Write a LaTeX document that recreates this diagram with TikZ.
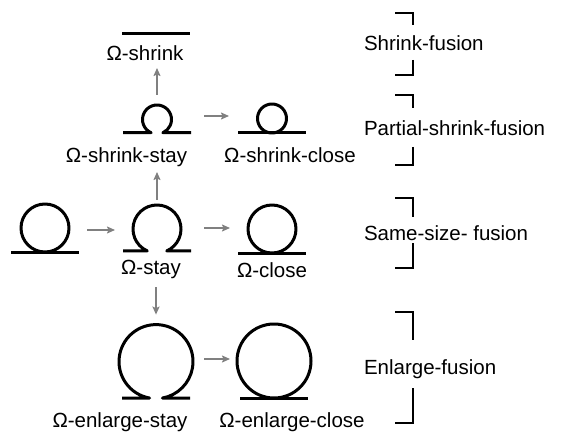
\documentclass[tikz,border=0pt]{standalone}
\usepackage{fontspec}
\setmainfont{Liberation Sans}
\usetikzlibrary{arrows.meta,calc}
\newcommand\OmStay[5]{% name, cx, CY, r, alpha
  \node[symbox, minimum height={2*#4}] (#1) at (#2,#3) {};
  \pgfmathsetmacro\og{#4*cos(#5)}%
  \pgfmathsetmacro\ob{#3-#4*sin(#5)}%
  \draw[omline] (#2-34,\ob) -- (#2-\og,\ob) arc[start angle={180+#5}, end angle={-#5}, radius=#4pt] -- (#2+34,\ob);}
\newcommand\OmClose[4]{% name, cx, CY, r
  \node[symbox, minimum height={2*#4}] (#1) at (#2,#3) {};
  \draw[omline] (#2-34,#3-#4) -- (#2+34,#3-#4);
  \draw[omline] (#2,#3) circle[radius=#4pt];}
\begin{document}
\begin{tikzpicture}[x=1pt,y=1pt,
  symbox/.style={draw=none, inner sep=0pt, outer sep=0pt, minimum width=68pt},
  omline/.style={line width=3pt, black, line join=round},
  lbl/.style={inner sep=0pt, outer sep=0pt, text depth=4pt, anchor=base, font=\fontsize{20.5}{24}\selectfont},
  grp/.style={inner sep=0pt, outer sep=0pt, anchor=base west, font=\fontsize{20.5}{24}\selectfont},
  arr/.style={draw=gray, line width=1.5pt, -{Stealth[length=8pt,width=7pt,inset=1.5pt]}},
  brk/.style={line width=2pt, black}]
\useasboundingbox (0,0) rectangle (569,434);
% Omega-shrink
\node[symbox, minimum height=3pt] (shrink) at (156,400) {};
\draw[omline] (122,400) -- (190,400);
\node[lbl] (lshrink) at (145,373.7) {Ω-shrink};
% row 2
\OmStay{sstay}{157}{314.5}{14.5}{66}
\OmClose{sclose}{272}{315.5}{14.5}
\node[lbl] (lsstay) at (126.5,271.7) {Ω-shrink-stay};
\node[lbl] (lsclose) at (290,271.7) {Ω-shrink-close};
% row 3
\OmClose{orig}{45}{206}{24}
\OmStay{stay}{157}{205}{24}{66}
\OmClose{close}{272}{205}{24}
\node[lbl] (lstay) at (151,159.7) {Ω-stay};
\node[lbl] (lclose) at (272,156.7) {Ω-close};
% row 4
\OmStay{estay}{156}{72.4}{37}{80}
\OmClose{eclose}{274}{73}{37}
\node[lbl] (lestay) at (120,7) {Ω-enlarge-stay};
\node[lbl] (leclose) at (292,7) {Ω-enlarge-close};
% arrows
\draw[arr, shorten <=10pt, shorten >=3.7pt] (sstay.north) -- (sstay.north |- lshrink.south);
\draw[arr, shorten <=13pt, shorten >=9pt] ([yshift=3.5pt]sstay.east) -- ([yshift=3.5pt]sstay.east -| sclose.west);
\draw[arr, shorten <=5pt, shorten >=5.7pt] (stay.north) -- (stay.north |- lsstay.south);
\draw[arr, shorten <=8pt, shorten >=8pt] ([yshift=-2pt]orig.east) -- ([yshift=-2pt]orig.east -| stay.west);
\draw[arr, shorten <=13pt, shorten >=8pt] ([yshift=1pt]stay.east) -- ([yshift=1pt]stay.east -| close.west);
\draw[arr, shorten <=8.7pt, shorten >=10pt] (estay.north |- lstay.south) -- (estay.north);
\draw[arr, shorten <=14pt, shorten >=10pt] ([yshift=2.6pt]estay.east) -- ([yshift=2.6pt]estay.east -| eclose.west);
% group labels
\node[grp] (gshrink) at (364,383) {Shrink-fusion};
\node[grp] (gpartial) at (364,298.5) {Partial-shrink-fusion};
\node[grp] (gsame) at (364,193.5) {Same-size- fusion};
\node[grp] (genlarge) at (364,59.5) {Enlarge-fusion};
% brackets
\draw[brk] (395,421) -- (413,421) -- (413,409);
\draw[brk] (413,374) -- (413,359) -- (395,359);
\draw[brk] (395,339) -- (413,339) -- (413,326);
\draw[brk] (413,287) -- (413,269) -- (395,269);
\draw[brk] (395,236) -- (413,236) -- (413,217);
\draw[brk] (413,191) -- (413,166) -- (395,166);
\draw[brk] (395,122) -- (413,122) -- (413,94);
\draw[brk] (413,46) -- (413,11) -- (395,11);
\end{tikzpicture}
\end{document}
